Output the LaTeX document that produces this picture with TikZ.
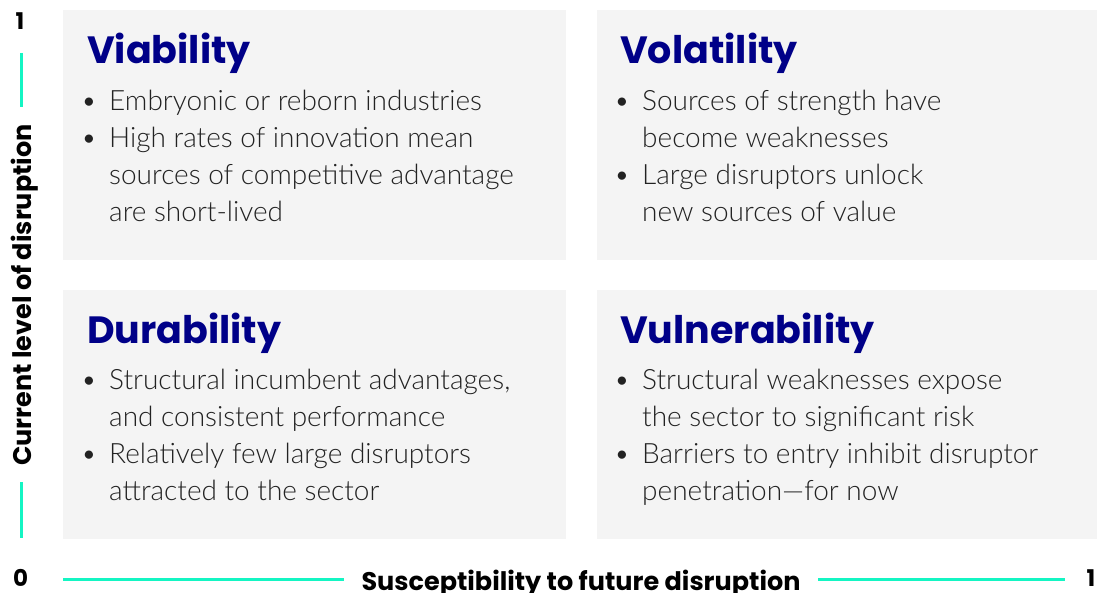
\documentclass[tikz,border=0pt]{standalone}
\usepackage{fontspec}
\setmainfont{Lato}
\newfontfamily\bodyfont{Lato Light}
\newfontfamily\headfont{Poppins Bold}
\newfontfamily\axisfont{Poppins Bold}
\definecolor{panel}{HTML}{F4F4F4}
\definecolor{navy}{HTML}{000088}
\definecolor{mint}{HTML}{14F5C3}
\definecolor{ink}{HTML}{222222}
\tikzset{
  panelbox/.style={fill=panel, draw=none},
  heading/.style={anchor=base west, inner sep=0pt, font=\headfont\fontsize{38}{38}\selectfont, text=navy},
  bodyline/.style={anchor=base west, inner sep=0pt, font=\bodyfont\fontsize{28}{28}\selectfont, text=ink},
  bulletline/.style={bodyline, execute at begin node={\llap{\textbullet\hspace{12pt}}}},
  axislabel/.style={inner sep=0pt, font=\axisfont\fontsize{25.5}{25.5}\selectfont, text=black},
  axisnum/.style={inner sep=0pt, font=\axisfont\fontsize{23}{23}\selectfont, text=black},
  axisline/.style={draw=mint, line width=3pt}
}
\begin{document}
\begin{tikzpicture}[x=1pt, y=-1pt]
\useasboundingbox (0,0) rectangle (1097,593);
% quadrant panels
\fill[panelbox] (63,10) rectangle (566,260);
\fill[panelbox] (597,10) rectangle (1097,260);
\fill[panelbox] (63,290) rectangle (566,539);
\fill[panelbox] (597,290) rectangle (1097,539);

% top left
\node[heading] (t1) at (87,64) {Viability};
\node[bulletline] (a1) at (109,111) {Embryonic or reborn industries};
\node[bulletline] (a2) at (109,148) {High rates of innovation mean};
\node[bodyline] (a3) at (109,185) {sources of competitive advantage};
\node[bodyline] (a4) at (109,222) {are short-lived};

% top right
\node[heading] (t2) at (620,64) {Volatility};
\node[bulletline] (b1) at (642,111) {Sources of strength have};
\node[bodyline] (b2) at (642,148) {become weaknesses};
\node[bulletline] (b3) at (642,185) {Large disruptors unlock};
\node[bodyline] (b4) at (642,222) {new sources of value};

% bottom left
\node[heading] (t3) at (87,344) {Durability};
\node[bulletline] (c1) at (109,389) {Structural incumbent advantages,};
\node[bodyline] (c2) at (109,426) {and consistent performance};
\node[bulletline] (c3) at (109,463) {Relatively few large disruptors};
\node[bodyline] (c4) at (109,500) {attracted to the sector};

% bottom right
\node[heading] (t4) at (620,344) {Vulnerability};
\node[bulletline] (d1) at (642,389) {Structural weaknesses expose};
\node[bodyline] (d2) at (642,426) {the sector to significant risk};
\node[bulletline] (d3) at (642,463) {Barriers to entry inhibit disruptor};
\node[bodyline] (d4) at (642,500) {penetration—for now};

% axes
\node[axisnum] (ytop) at (20,21.5) {1};
\node[axisnum] (orig) at (20.5,578) {0};
\node[axisnum] (xend) at (1091,578) {1};
\node[axislabel, rotate=90, anchor=base] (ylab) at (31,295) {Current level of disruption};
\node[axislabel, anchor=base] (xlab) at (581,590) {Susceptibility to future disruption};
\coordinate (y1) at (21,53);
\coordinate (y2) at (21,107);
\coordinate (y3) at (21,482);
\coordinate (y4) at (21,538);
\coordinate (x1) at (63,579);
\coordinate (x2) at (344,579);
\coordinate (x3) at (818,579);
\coordinate (x4) at (1065,579);
\draw[axisline] (y1) -- (y2);
\draw[axisline] (y3) -- (y4);
\draw[axisline] (x1) -- (x2);
\draw[axisline] (x3) -- (x4);
\end{tikzpicture}
\end{document}
